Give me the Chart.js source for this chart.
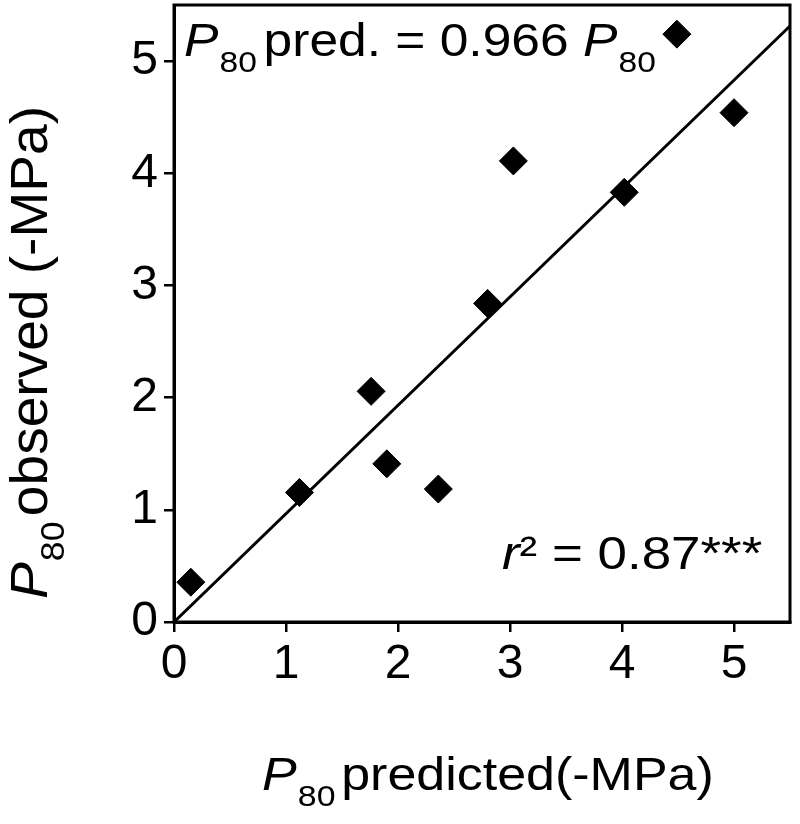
<!DOCTYPE html>
<html>
<head>
<meta charset="utf-8">
<script src="https://cdn.jsdelivr.net/npm/chart.js@4.4.1/dist/chart.umd.min.js"></script>
<style>
  html, body { margin: 0; padding: 0; background: #fff; }
  #wrap { width: 800px; height: 824px; position: relative; }
</style>
</head>
<body>
<div id="wrap"><canvas id="c"></canvas></div>
<script>
// ---- Data ----
const predicted = [0.15, 1.12, 1.76, 1.90, 2.36, 2.80, 3.03, 4.02, 4.49, 5.00];
const observed  = [0.355, 1.155, 2.056, 1.41, 1.185, 2.84, 4.11, 3.83, 5.24, 4.54];
const fitSlope = 0.966;
const fitX = [0, 5.5];
const fitY = fitX.map(v => v * fitSlope);
const xTicks = [0, 1, 2, 3, 4, 5];
const yTicks = [0, 1, 2, 3, 4, 5];
const axisMin = 0, axisMax = 5.5;

const FONT = "'Liberation Sans', Arial, sans-serif";

// draws a run of text pieces with a horizontal stretch factor
function drawParts(ctx, x, y, stretch, parts) {
  ctx.save();
  ctx.translate(x, y);
  ctx.scale(stretch, 1);
  let cx = 0;
  for (const p of parts) {
    ctx.font = p.font;
    ctx.fillText(p.t, cx, p.dy || 0);
    cx += ctx.measureText(p.t).width + (p.gap || 0);
  }
  ctx.restore();
}

const decor = {
  id: 'decor',
  afterDraw(chart) {
    const ctx = chart.ctx;
    const a = chart.chartArea;
    ctx.save();
    ctx.strokeStyle = '#000';
    ctx.lineWidth = 3;
    ctx.strokeRect(a.left, a.top, a.right - a.left, a.bottom - a.top);

    ctx.fillStyle = '#000';
    ctx.textBaseline = 'alphabetic';
    ctx.textAlign = 'left';
    const it = s => `italic ${s}px ${FONT}`;
    const rg = s => `${s}px ${FONT}`;
    // top-left equation
    drawParts(ctx, 184, 56, 1.12, [
      {t: 'P', font: it(46), gap: 1},
      {t: '80', font: rg(30), dy: 16, gap: 6},
      {t: 'pred. = 0.966 ', font: rg(46)},
      {t: 'P', font: it(46), gap: 1},
      {t: '80', font: rg(30), dy: 16}
    ]);
    // r^2
    drawParts(ctx, 502, 569, 1.15, [
      {t: 'r', font: it(46)},
      {t: '²', font: rg(46)},
      {t: ' = 0.87***', font: rg(46)}
    ]);
    // x title
    drawParts(ctx, 262, 790, 1.13, [
      {t: 'P', font: it(46), gap: 1},
      {t: '80', font: rg(30), dy: 16, gap: 5},
      {t: 'predicted(-MPa)', font: rg(46)}
    ]);
    // y title (rotated)
    ctx.translate(47, 599);
    ctx.rotate(-Math.PI / 2);
    drawParts(ctx, 0, 0, 1.08, [
      {t: 'P', font: it(51), gap: 1},
      {t: '80', font: rg(33), dy: 17, gap: 5},
      {t: 'observed (-MPa)', font: rg(51)}
    ]);
    ctx.restore();
  }
};

new Chart(document.getElementById('c'), {
  type: 'scatter',
  data: {
    datasets: [
      {
        label: 'fit',
        data: fitX.map((x, i) => ({x, y: fitY[i]})),
        showLine: true,
        borderColor: '#000',
        borderWidth: 3,
        pointRadius: 0,
        fill: false,
        order: 2
      },
      {
        label: 'obs',
        data: predicted.map((x, i) => ({x, y: observed[i]})),
        pointStyle: 'rectRot',
        pointRadius: 14,
        pointBackgroundColor: '#000',
        pointBorderColor: '#000',
        pointBorderWidth: 1,
        order: 1
      }
    ]
  },
  options: {
    responsive: true,
    maintainAspectRatio: false,
    animation: false,
    events: [],
    layout: { autoPadding: false, padding: { top: 5, right: 10, left: 0, bottom: 0 } },
    plugins: { legend: { display: false }, tooltip: { enabled: false } },
    scales: {
      x: {
        type: 'linear', min: axisMin, max: axisMax,
        afterBuildTicks: s => { s.ticks = xTicks.map(v => ({value: v})); },
        afterFit: s => { s.height = 202; s.paddingLeft = 0; s.paddingRight = 0; },
        border: { display: true, color: '#000', width: 3 },
        grid: { display: true, drawOnChartArea: false, drawTicks: true, tickLength: 10, color: '#000', lineWidth: 2.5 },
        ticks: { color: '#000', font: { family: FONT, size: 48 }, padding: 4, maxRotation: 0 }
      },
      y: {
        type: 'linear', min: axisMin, max: axisMax,
        afterBuildTicks: s => { s.ticks = yTicks.map(v => ({value: v})); },
        afterFit: s => { s.width = 174; s.paddingTop = 0; s.paddingBottom = 0; },
        border: { display: true, color: '#000', width: 3 },
        grid: { display: true, drawOnChartArea: false, drawTicks: true, tickLength: 10, color: '#000', lineWidth: 2.5 },
        ticks: { color: '#000', font: { family: FONT, size: 48 }, padding: 6 }
      }
    }
  },
  plugins: [decor]
});
</script>
</body>
</html>
